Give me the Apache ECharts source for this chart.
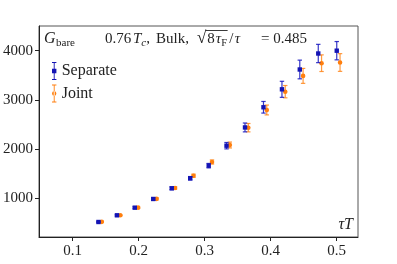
<!DOCTYPE html>
<html><head><meta charset="utf-8">
<script src="https://cdn.jsdelivr.net/npm/echarts@6/dist/echarts.min.js"></script>
<style>html,body{margin:0;padding:0;background:#fff}#c{width:397px;height:264px}</style>
</head><body><div id="c"></div>
<script>
// ---- data ----
const tauSep   = [0.139, 0.167, 0.194, 0.222, 0.250, 0.278, 0.306, 0.333, 0.361, 0.389, 0.417, 0.444, 0.472, 0.500];
const gSep     = [518, 654, 809, 986, 1203, 1407, 1663, 2069, 2440, 2850, 3215, 3618, 3943, 4000];
const errSep   = [12, 15, 18, 22, 28, 35, 45, 65, 90, 118, 163, 190, 186, 186];
const tauJoint = [0.144, 0.172, 0.199, 0.227, 0.255, 0.283, 0.311, 0.338, 0.366, 0.394, 0.422, 0.449, 0.477, 0.505];
const gJoint   = [521, 655, 810, 988, 1210, 1459, 1738, 2083, 2435, 2795, 3167, 3488, 3746, 3760];
const errJoint = [10, 13, 16, 20, 25, 32, 42, 60, 85, 100, 125, 152, 169, 180];
const xTicks = [0.1, 0.2, 0.3, 0.4, 0.5];
const yTicks = [1000, 2000, 3000, 4000];
const seriesNames = ['Separate', 'Joint'];

const FONT = '"Liberation Serif", "DejaVu Serif", serif';
const TXT = '#222';
const BLUE = '#1414b4', BLUE_BAR = 'rgba(20,20,190,0.85)';
const ORANGE = '#ff7f0e', ORANGE_BAR = 'rgba(255,127,14,0.8)';

const chart = echarts.init(document.getElementById('c'), null, {renderer: 'canvas'});

function makeRender(shape, color, barColor) {
  return function (params, api) {
    const x = api.value(0), y = api.value(1), e = api.value(2);
    const c = api.coord([x, y]), hi = api.coord([x, y + e]), lo = api.coord([x, y - e]);
    const cap = 2.2;
    const bs = {stroke: barColor, lineWidth: 1.2};
    const ch = [
      {type: 'line', shape: {x1: c[0], y1: hi[1], x2: c[0], y2: lo[1]}, style: bs},
      {type: 'line', shape: {x1: c[0] - cap, y1: hi[1], x2: c[0] + cap, y2: hi[1]}, style: bs},
      {type: 'line', shape: {x1: c[0] - cap, y1: lo[1], x2: c[0] + cap, y2: lo[1]}, style: bs}
    ];
    if (shape === 'square') ch.push({type: 'rect', shape: {x: c[0] - 2.2, y: c[1] - 2.2, width: 4.4, height: 4.4}, style: {fill: color}});
    else ch.push({type: 'circle', shape: {cx: c[0], cy: c[1], r: 2.3}, style: {fill: color}});
    return {type: 'group', children: ch};
  };
}

// legend icons (errorbar glyphs)
const iconSep = 'path://M0,0h4.4v0.9h-4.4z M1.75,0h0.9v18h-0.9z M0,17.1h4.4v0.9h-4.4z M0,6.8h4.4v4.4h-4.4z';
const iconJoint = 'path://M0,0h4.4v0.9h-4.4z M1.75,0h0.9v18h-0.9z M0,17.1h4.4v0.9h-4.4z M0,9a2.2,2.2 0 1,0 4.4,0a2.2,2.2 0 1,0 -4.4,0z';

// header text built from tokens, positions computed with measureText
const mctx = document.createElement('canvas').getContext('2d');
function fontStr(sz, it) { return (it ? 'italic ' : '') + sz + 'px ' + FONT; }
const MID = 0.32;
function txt(x, base, text, sz, it, align) {
  return {type: 'text', x: x, y: base - MID * sz,
          style: {text: text, font: fontStr(sz, it), fill: TXT, align: align || 'left', verticalAlign: 'middle'}};
}
function runTokens(tokens, x0, base, els) {
  let x = x0;
  const spans = [];
  tokens.forEach(t => {
    mctx.font = fontStr(t.s, t.i);
    const w = mctx.measureText(t.t).width;
    els.push(txt(x, base + (t.dy || 0), t.t, t.s, t.i));
    spans.push([x, x + w]);
    x += w + (t.gap || 0);
  });
  return spans;
}
const els = [];
runTokens([{t: 'G', s: 16, i: true, gap: 0.5}, {t: 'bare', s: 11, dy: 3}], 44, 44, els);
runTokens([{t: '0.76', s: 15}], 105, 44, els);
runTokens([{t: 'T', s: 15, i: true}, {t: 'c', s: 11, i: true, dy: 3}, {t: ',', s: 15}], 133, 44, els);
runTokens([{t: 'Bulk,', s: 15}], 156, 44, els);
const sq = runTokens([{t: '√', s: 17, gap: 1}, {t: '8', s: 15, gap: 0.8}, {t: 'τ', s: 15, i: true, gap: 0.3}, {t: 'F', s: 10.5, dy: 3, gap: 2}, {t: '/', s: 15, gap: 1.5}, {t: 'τ', s: 15, i: true}], 197, 44, els);
els.push({type: 'line', shape: {x1: sq[0][1] - 0.8, y1: 30.5, x2: sq[3][1] + 0.5, y2: 30.5}, style: {stroke: TXT, lineWidth: 0.9}});
els.push(txt(307, 44, '= 0.485', 15, false, 'right'));
els.push(txt(353, 230, 'τT', 16, true, 'right'));

const axisCommon = {
  axisLine: {show: true, onZero: false, lineStyle: {color: '#222', width: 1}},
  axisTick: {show: true, length: 4, lineStyle: {color: '#222', width: 1}},
  splitLine: {show: false},
  axisLabel: {fontFamily: FONT, fontSize: 15, color: TXT}
};

chart.setOption({
  animation: false,
  grid: {left: 39, right: 39, top: 26, bottom: 27, show: true, borderColor: '#555', borderWidth: 1, containLabel: false},
  xAxis: Object.assign({}, axisCommon, {
    type: 'value', min: 0.0489, max: 0.5322,
    axisTick: Object.assign({}, axisCommon.axisTick, {customValues: xTicks}),
    axisLabel: Object.assign({}, axisCommon.axisLabel, {customValues: xTicks, margin: 7, formatter: v => String(Math.round(v * 10) / 10)})
  }),
  yAxis: Object.assign({}, axisCommon, {
    type: 'value', min: 213, max: 4502,
    axisTick: Object.assign({}, axisCommon.axisTick, {customValues: yTicks}),
    axisLabel: Object.assign({}, axisCommon.axisLabel, {customValues: yTicks, margin: 6, formatter: v => String(Math.round(v))})
  }),
  legend: {
    orient: 'vertical', left: 52, top: 62, padding: 0, itemGap: 4.5, itemWidth: 5, itemHeight: 18,
    textStyle: {fontFamily: FONT, fontSize: 16, color: TXT},
    data: [{name: seriesNames[0], icon: iconSep}, {name: seriesNames[1], icon: iconJoint}]
  },
  graphic: els,
  series: [
    {name: seriesNames[0], type: 'custom', itemStyle: {color: BLUE}, renderItem: makeRender('square', BLUE, BLUE_BAR),
     data: tauSep.map((t, i) => [t, gSep[i], errSep[i]]), encode: {x: 0, y: 1}, z: 3},
    {name: seriesNames[1], type: 'custom', itemStyle: {color: ORANGE}, renderItem: makeRender('circle', ORANGE, ORANGE_BAR),
     data: tauJoint.map((t, i) => [t, gJoint[i], errJoint[i]]), encode: {x: 0, y: 1}, z: 2}
  ]
});
</script></body></html>
